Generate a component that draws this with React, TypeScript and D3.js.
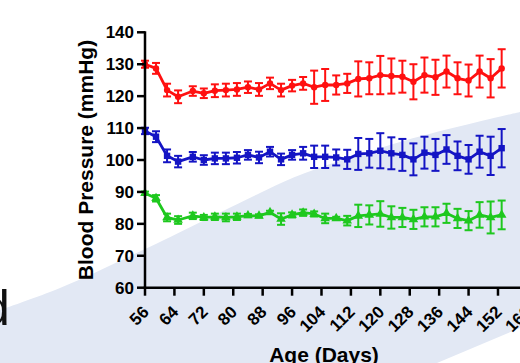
import React from "react";
import * as d3 from "d3";

// Age (days) at each measurement
const days = [56, 59, 62, 65, 69, 72, 75, 78, 81, 84, 87, 90, 93, 96, 99, 102, 105, 108, 111, 114, 117, 120, 123, 126, 129, 132, 135, 138, 141, 144, 147, 150, 153];

// Systolic pressure (mmHg) and SEM
const systolic = [130, 128.7, 121.9, 119.8, 121.6, 120.9, 121.7, 121.9, 122.1, 122.8, 122.1, 124, 121.9, 123.3, 124, 122.8, 123.5, 123.5, 124, 125.4, 125.6, 126.6, 126.3, 126.1, 124.5, 126.6, 125.9, 127.7, 125.6, 124.9, 127.7, 125.6, 128.7];
const systolicErr = [1.1, 1.7, 2, 2, 1.5, 1.5, 2, 2, 2, 1.8, 2, 1.8, 2, 1.8, 2, 5.2, 5, 3, 3, 5.5, 5, 6, 5.5, 5, 5.5, 5.5, 5.5, 5, 5, 5, 5, 6, 6];

// Mean arterial pressure (mmHg) and SEM
const meanPressure = [109.1, 107.3, 101.3, 99.5, 101, 100, 100.5, 100.5, 100.7, 101.6, 100.8, 102.6, 100.2, 101.6, 102.1, 101, 101, 100.8, 100.2, 101.9, 102.1, 102.9, 102.1, 101.6, 100.2, 102.3, 101.6, 103.3, 101.3, 100.2, 102.6, 101.3, 103.7];
const meanErr = [1, 1.7, 2, 1.8, 1.5, 1.5, 1.8, 1.8, 1.8, 1.5, 1.8, 1.5, 1.8, 1.5, 2, 3.5, 3.5, 2.5, 3, 5, 4.5, 5.5, 5, 5, 5, 5, 5, 4.5, 4.5, 4.5, 5, 6, 6];

// Diastolic pressure (mmHg) and SEM
const diastolic = [89.6, 88, 82, 81.2, 82.5, 82, 82.2, 82, 82.2, 82.6, 82.5, 83.6, 81.5, 82.8, 83.5, 83.1, 81.7, 81.7, 81, 82.5, 82.8, 83.1, 82, 82, 81.4, 82.2, 82.2, 83.3, 81.7, 81, 82.8, 82, 82.8];
const diastolicErr = [0.5, 1, 1.2, 1.2, 1, 0.8, 1, 1.2, 1, 0.5, 0.5, 0.5, 1.8, 0.8, 1, 0.8, 1.5, 0.5, 1.5, 3.5, 3, 4, 3.5, 3, 3, 3, 3, 3, 3, 3, 4, 5, 4.5];

const xTicks = [56, 64, 72, 80, 88, 96, 104, 112, 120, 128, 136, 144, 152, 160];
const yTicks = [60, 70, 80, 90, 100, 110, 120, 130, 140];

const W = 520;
const H = 363;
const FONT = "'Liberation Sans', Arial, Helvetica, sans-serif";

type Shape = "circle" | "square" | "triangle";

export default function App() {
  const x = d3.scaleLinear().domain([56, 160]).range([145, 527.4]);
  const y = d3.scaleLinear().domain([60, 140]).range([287.7, 32.3]);

  const series: { vals: number[]; err: number[]; color: string; shape: Shape }[] = [
    { vals: systolic, err: systolicErr, color: "#ff1010", shape: "circle" },
    { vals: meanPressure, err: meanErr, color: "#1414c4", shape: "square" },
    { vals: diastolic, err: diastolicErr, color: "#1ec81e", shape: "triangle" },
  ];

  // decorative diagonal band behind the plot
  const curve = d3.line().curve(d3.curveCatmullRom);
  const topEdge = curve([
    [0, 310],
    [60, 288],
    [143, 250],
    [260, 193],
    [300, 175],
    [407, 140],
    [520, 112],
  ] as [number, number][]) as string;
  const band = `${topEdge} L520,328 L437,363 L0,363 Z`;

  const line = d3
    .line<number>()
    .x((_, i) => x(days[i]))
    .y((v) => y(v));

  const marker = (shape: Shape, cx: number, cy: number, color: string, key: string) => {
    if (shape === "circle") return <circle key={key} cx={cx} cy={cy} r={3.2} fill={color} />;
    if (shape === "square")
      return <rect key={key} x={cx - 3.2} y={cy - 3.2} width={6.4} height={6.4} fill={color} />;
    const s = d3.symbol(d3.symbolTriangle, 40)() as string;
    return <path key={key} d={s} transform={`translate(${cx},${cy})`} fill={color} />;
  };

  return (
    <svg
      width={W}
      height={H}
      style={{ position: "absolute", left: 0, top: 0, background: "#ffffff" }}
      fontFamily={FONT}
    >
      <path d={band} fill="#e2e8f4" />

      <text x={-18} y={325} fontSize={50} fill="#111" fontFamily={FONT}>
        d
      </text>

      {/* data series */}
      {series.map((s, si) => (
        <g key={si}>
          {s.vals.map((v, i) => {
            const cx = x(days[i]);
            const y1 = y(v + s.err[i]);
            const y0 = y(v - s.err[i]);
            return (
              <g key={i} stroke={s.color} strokeWidth={2}>
                <line x1={cx} x2={cx} y1={y1} y2={y0} />
                <line x1={cx - 4} x2={cx + 4} y1={y1} y2={y1} />
                <line x1={cx - 4} x2={cx + 4} y1={y0} y2={y0} />
              </g>
            );
          })}
          <path d={line(s.vals) as string} fill="none" stroke={s.color} strokeWidth={2.8} strokeLinejoin="round" />
          {s.vals.map((v, i) => marker(s.shape, x(days[i]), y(v), s.color, `m${i}`))}
        </g>
      ))}

      {/* y axis */}
      <line x1={145} x2={145} y1={y(140) - 1} y2={y(60) + 1.2} stroke="#000" strokeWidth={2.5} />
      {yTicks.map((t) => (
        <g key={t}>
          <line x1={137} x2={145} y1={y(t)} y2={y(t)} stroke="#000" strokeWidth={2.5} />
          <text x={134} y={y(t)} dy="0.36em" textAnchor="end" fontSize={17} fontWeight="bold" fill="#000">
            {t}
          </text>
        </g>
      ))}

      {/* x axis */}
      <line x1={143.8} x2={W} y1={y(60)} y2={y(60)} stroke="#000" strokeWidth={2.5} />
      {xTicks.map((t) => (
        <g key={t}>
          <line x1={x(t)} x2={x(t)} y1={y(60)} y2={y(60) + 8} stroke="#000" strokeWidth={2.5} />
          <text
            transform={`translate(${x(t) + 5},${313}) rotate(-45)`}
            textAnchor="end"
            fontSize={17}
            fontWeight="bold"
            fill="#000"
          >
            {t}
          </text>
        </g>
      ))}

      <text
        transform={`translate(93,160) rotate(-90)`}
        textAnchor="middle"
        fontSize={21}
        fontWeight="bold"
        fill="#000"
      >
        Blood Pressure (mmHg)
      </text>
      <text x={324} y={362} textAnchor="middle" fontSize={21} fontWeight="bold" fill="#000">
        Age (Days)
      </text>
    </svg>
  );
}
